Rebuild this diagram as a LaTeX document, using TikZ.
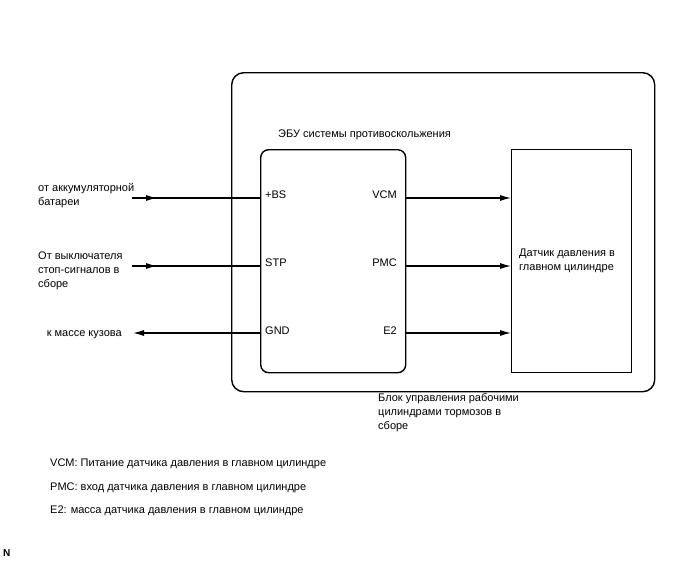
\documentclass[tikz,border=0pt]{standalone}
\usepackage{fontspec}
\setmainfont{Liberation Sans}
\usetikzlibrary{arrows.meta,decorations.markings}
\begin{document}
\begin{tikzpicture}[x=1pt,y=-1pt,
  boxline/.style={draw,line width=1.4pt,inner sep=0pt,anchor=north west},
  conn/.style={line width=1.2pt},
  tip/.style={-{Latex[length=11pt,width=6pt]}},
  midtip/.style={postaction={decorate},decoration={markings,
     mark=at position 25pt with {\arrow{Latex[length=11pt,width=6pt]}}}},
  txt/.style={font=\fontsize{11}{13.6}\selectfont,inner sep=0pt,align=left},
]
\useasboundingbox (0,0) rectangle (688,560);
% boxes
\node[boxline,rounded corners=12pt,minimum width=423pt,minimum height=319pt] (outer) at (231,72) {};
\node[boxline,rounded corners=8pt,minimum width=145pt,minimum height=223pt] (ecu) at (260,149) {};
\node[boxline,minimum width=120pt,minimum height=223pt] (sensor) at (511,149) {};
% free ends
\coordinate (bsin) at (132,198);
\coordinate (stpin) at (132,266);
\coordinate (gndout) at (133,333);
% left connectors
\draw[conn,midtip] (bsin) -- (bsin -| ecu.west);
\draw[conn,midtip] (stpin) -- (stpin -| ecu.west);
\draw[conn,tip] (gndout -| ecu.west) -- (gndout);
% right connectors
\draw[conn,tip] (ecu.east |- bsin) -- (sensor.west |- bsin);
\draw[conn,tip] (ecu.east |- stpin) -- (sensor.west |- stpin);
\draw[conn,tip] (ecu.east |- gndout) -- (sensor.west |- gndout);
% pin labels
\node[txt,anchor=base west] (pbs) at (265,198) {+BS};
\node[txt,anchor=base east] (pvcm) at (397,198) {VCM};
\node[txt,anchor=base west] (pstp) at (265,266) {STP};
\node[txt,anchor=base east] (ppmc) at (397,266) {PMC};
\node[txt,anchor=base west] (pgnd) at (265,334) {GND};
\node[txt,anchor=base east] (pe2) at (397,334) {E2};
% outside labels (base = last line)
\node[txt,anchor=base west] (lbat) at (38,205) {от аккумуляторной\\батареи};
\node[txt,anchor=base west] (lstp) at (38,287) {От выключателя\\стоп-сигналов в\\сборе};
\node[txt,anchor=base east] (lgnd) at (122,336) {к массе кузова};
\node[txt,anchor=base west] (lecu) at (278,137.5) {ЭБУ системы противоскольжения};
\node[txt,anchor=base west] (lsen) at (519,270) {Датчик давления в\\главном цилиндре};
\node[txt,anchor=base west] (lblk) at (378,429) {Блок управления рабочими\\цилиндрами тормозов в\\сборе};
% legend
\node[txt,anchor=base west] (leg1) at (50,466.5) {VCM: Питание датчика давления в главном цилиндре};
\node[txt,anchor=base west] (leg2) at (50,490) {PMC: вход датчика давления в главном цилиндре};
\node[txt,anchor=base west] (leg3) at (50,513) {E2: масса датчика давления в главном цилиндре};
\node[font=\fontsize{10}{11}\selectfont\bfseries,inner sep=0pt,anchor=base west] (nmark) at (3,556.5) {N};
\end{tikzpicture}
\end{document}
